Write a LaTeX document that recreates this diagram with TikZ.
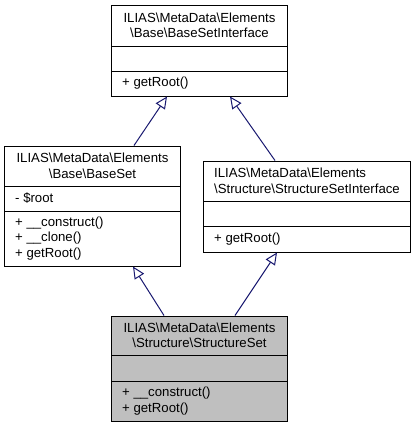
\documentclass[tikz,border=0pt]{standalone}
\usepackage{fontspec}
\setmainfont{Liberation Sans}
\usetikzlibrary{arrows.meta}
\definecolor{edgeblue}{HTML}{191970}
\definecolor{boxgray}{HTML}{BFBFBF}
\begin{document}
\begin{tikzpicture}[x=1bp,y=-1bp,
  box/.style={draw=black,line width=1bp,inner sep=0pt,fill=white},
  sep/.style={draw=black,line width=1bp},
  ttl/.style={font=\fontsize{13.2bp}{15.5bp}\selectfont,inner sep=0pt,align=center},
  ttll/.style={font=\fontsize{13.2bp}{15.5bp}\selectfont,inner sep=0pt,align=left},
  mem/.style={font=\fontsize{13.2bp}{15.5bp}\selectfont,inner sep=0pt,align=left,anchor=west},
  inh/.style={draw=edgeblue,line width=1bp,-{Triangle[open,length=12bp,width=11bp,fill=white]}}]
\useasboundingbox (0,0) rectangle (416,427);
% Box A
\node[box,minimum width=175bp,minimum height=91bp] (A) at (199.5,50.5) {};
\draw[sep] (A.west |- 0,46) -- (A.east |- 0,46);
\draw[sep] (A.west |- 0,71) -- (A.east |- 0,71);
\node[ttl] (At) at (199.5,25.5) {ILIAS\textbackslash MetaData\textbackslash Elements\\\textbackslash Base\textbackslash BaseSetInterface};
\node[mem] (Am) at (122,83.5) {+ getRoot()};
% Box B
\node[box,minimum width=175bp,minimum height=120bp] (B) at (92.5,206) {};
\draw[sep] (B.west |- 0,186) -- (B.east |- 0,186);
\draw[sep] (B.west |- 0,211) -- (B.east |- 0,211);
\node[ttl] (Bt) at (92.5,166) {ILIAS\textbackslash MetaData\textbackslash Elements\\\textbackslash Base\textbackslash BaseSet};
\node[mem] (Ba) at (15,198.5) {- \$root};
\node[mem] (Bm) at (15,238.5) {+ \_\_construct()\\+ \_\_clone()\\+ getRoot()};
% Box C
\node[box,minimum width=206bp,minimum height=91bp] (C) at (307,206.5) {};
\draw[sep] (C.west |- 0,201) -- (C.east |- 0,201);
\draw[sep] (C.west |- 0,226) -- (C.east |- 0,226);
\node[ttll] (Ct) at (307,181) {ILIAS\textbackslash MetaData\textbackslash Elements\\\textbackslash Structure\textbackslash StructureSetInterface};
\node[mem] (Cm) at (214,239) {+ getRoot()};
% Box D
\node[box,fill=boxgray,minimum width=175bp,minimum height=105bp] (D) at (199.5,368.5) {};
\draw[sep] (D.west |- 0,355) -- (D.east |- 0,355);
\draw[sep] (D.west |- 0,381) -- (D.east |- 0,381);
\node[ttl] (Dt) at (199.5,335.5) {ILIAS\textbackslash MetaData\textbackslash Elements\\\textbackslash Structure\textbackslash StructureSet};
\node[mem] (Dm) at (122,401) {+ \_\_construct()\\+ getRoot()};
% Inheritance edges
\draw[inh] (B.north -| 134,0) -- (A.south -| 167,0);
\draw[inh] (C.north -| 275,0) -- (A.south -| 230,0);
\draw[inh] (D.north -| 164,0) -- (B.south -| 133,0);
\draw[inh] (D.north -| 235,0) -- (C.south -| 277,0);
\end{tikzpicture}
\end{document}
